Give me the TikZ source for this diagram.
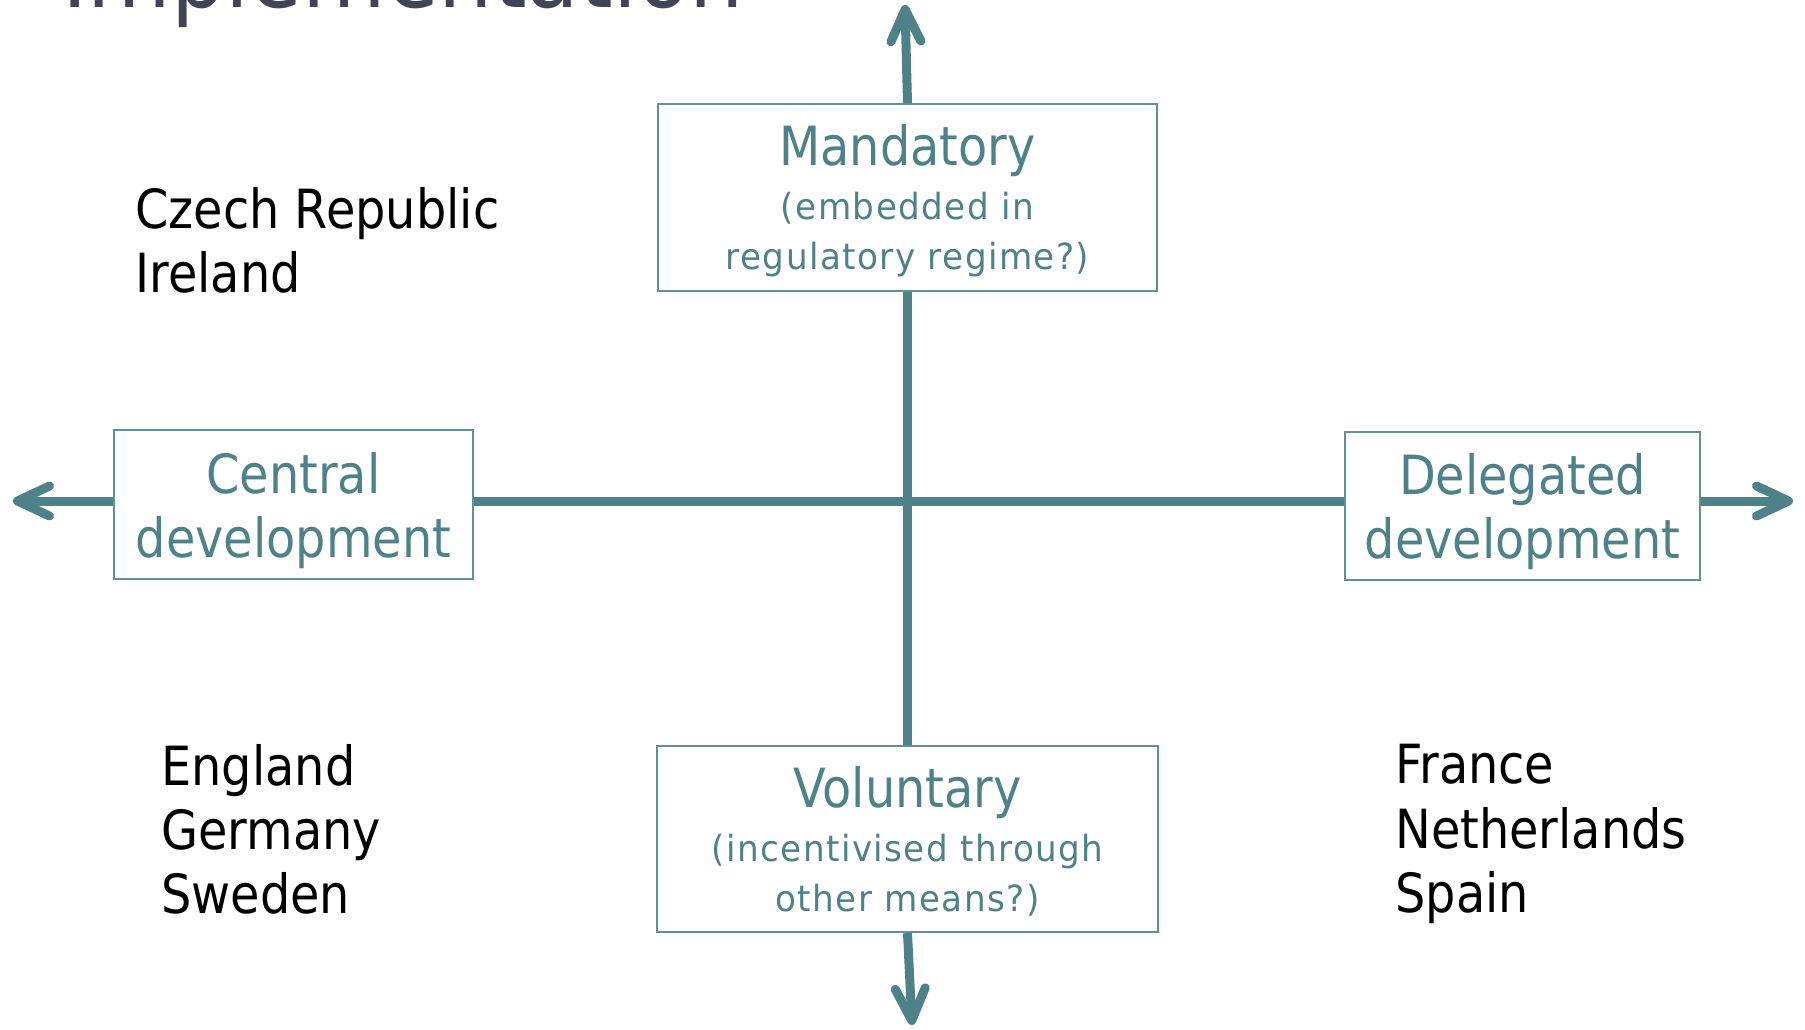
\documentclass[tikz,border=0pt]{standalone}
\usepackage{fontspec}
\setmainfont{DejaVu Sans}[FakeStretch=0.885]
\newfontfamily\smallfnt{DejaVu Sans}[FakeStretch=0.95,LetterSpace=4]
\usetikzlibrary{arrows.meta}
\definecolor{tealc}{RGB}{79,130,136}
\definecolor{tealb}{RGB}{96,145,150}
\definecolor{titlec}{RGB}{67,67,88}
\newcommand{\smalltxt}[1]{{\smallfnt\fontsize{18}{20}\selectfont #1}}
\begin{document}
\begin{tikzpicture}[x=0.5pt,y=-0.5pt,
  axisline/.style={draw=tealc,line width=4.5pt,-{Straight Barb[length=16pt,width=15pt,round]}},
  boxnode/.style={draw=tealb,line width=1.1pt,fill=white,text=tealc,align=center,inner sep=0pt},
  country/.style={anchor=base west,inner sep=0pt,font=\fontsize{27}{32}\selectfont,text=black},
  bigt/.style={font=\fontsize{27}{32}\selectfont},
  smallt/.style={font=\fontsize{27}{25}\selectfont}
]
\useasboundingbox (0,0) rectangle (1805,1029);
% title
\node[anchor=base west,inner sep=0pt,text=titlec,font=\fontsize{48.5}{58}\selectfont] (title) at (62,7) {Implementation};
% axis end points
\coordinate (top) at (905,5);
\coordinate (bot) at (912,1025);
\coordinate (lft) at (13,501);
\coordinate (rgt) at (1793,501);
\coordinate (hl) at (0,501);
% boxes
\node[boxnode,smallt,minimum width=249.5pt,minimum height=93.5pt] (mand) at (907.5,197.5)
  {\rule{0pt}{23.5pt}Mandatory\\[2pt]\smalltxt{(embedded in}\\\smalltxt{regulatory regime?)}};
\node[boxnode,smallt,minimum width=250.5pt,minimum height=93pt] (vol) at (907.5,839)
  {\rule{0pt}{23pt}Voluntary\\[2pt]\smalltxt{(incentivised through}\\\smalltxt{other means?)}};
\node[boxnode,bigt,minimum width=179.5pt,minimum height=74.5pt] (cent) at (293.5,504.5)
  {\rule{0pt}{26.5pt}Central\\development};
\node[boxnode,bigt,minimum width=177.5pt,minimum height=74pt] (del) at (1522.5,506)
  {\rule{0pt}{26.5pt}Delegated\\development};
% axes
\draw[axisline] (mand.north) -- (top);
\draw[axisline] (vol.south) -- (bot);
\draw[draw=tealc,line width=4.5pt] (mand.south) -- (vol.north);
\draw[axisline] (cent.west |- hl) -- (lft);
\draw[axisline] (del.east |- hl) -- (rgt);
\draw[draw=tealc,line width=4.5pt] (cent.east |- hl) -- (del.west |- hl);
% countries
\node[country] (cz) at (135,228) {Czech Republic};
\node[country] (ie) at (135,292) {Ireland};
\node[country] (en) at (161,785) {England};
\node[country] (de) at (161,849) {Germany};
\node[country] (se) at (161,913) {Sweden};
\node[country] (fr) at (1395,783) {France};
\node[country] (nl) at (1395,848) {Netherlands};
\node[country] (es) at (1395,912) {Spain};
\end{tikzpicture}
\end{document}
